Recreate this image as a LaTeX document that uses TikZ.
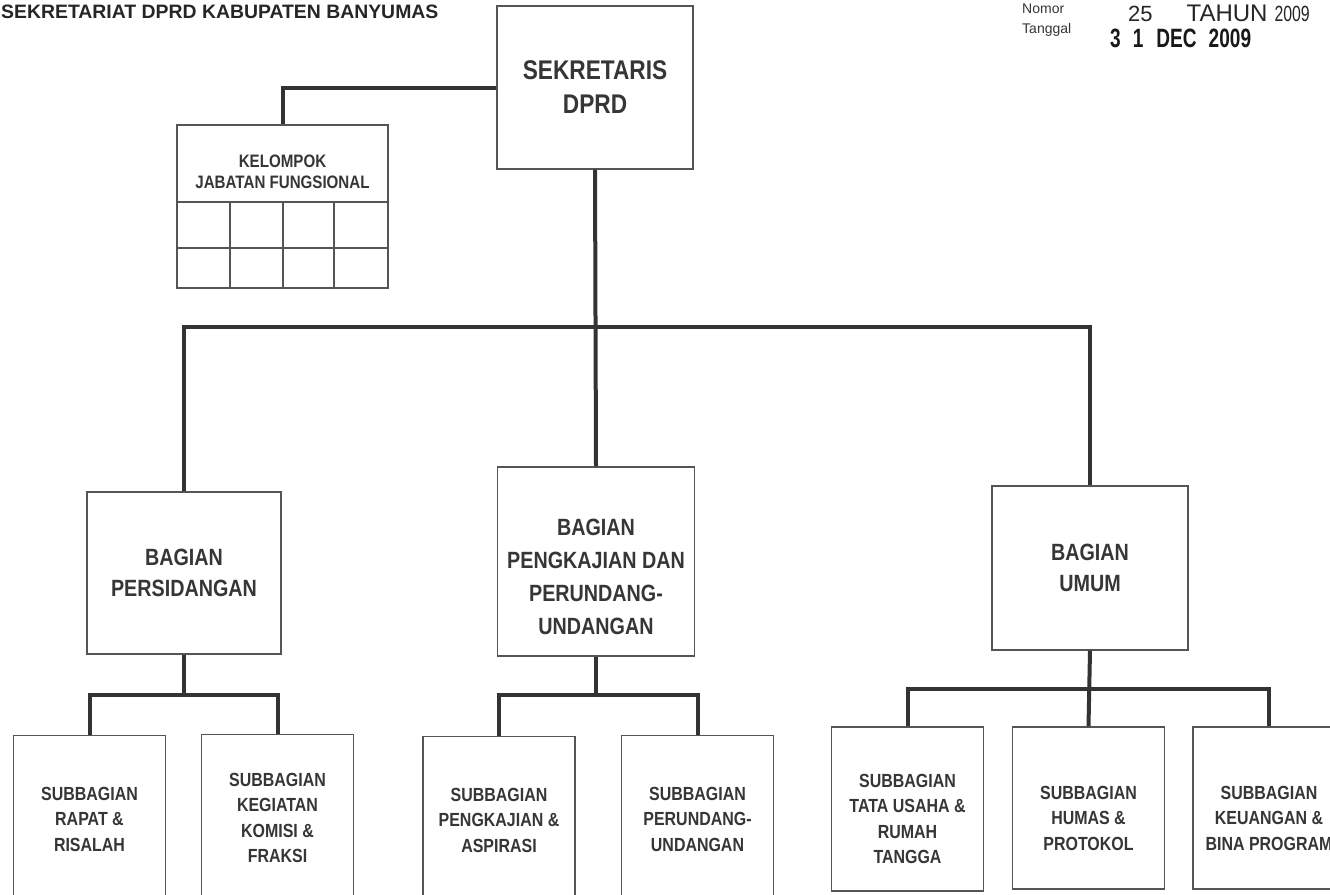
\documentclass[tikz,border=0pt]{standalone}
\usepackage{fontspec}
\setmainfont{Liberation Sans}
\newfontfamily\lblfont{Liberation Sans}[FakeStretch=0.84]
\newfontfamily\stampfont{Liberation Sans}[FakeStretch=0.72]
\usetikzlibrary{calc}
\definecolor{linegray}{HTML}{333333}
\definecolor{boxgray}{HTML}{555555}
\definecolor{textgray}{HTML}{363636}
\begin{document}
\begin{tikzpicture}[x=1pt,y=-1pt,
  box/.style={draw=boxgray,line width=1.4pt,fill=white,inner sep=0pt,align=center,text=textgray},
  lblbig/.style={font={\lblfont\bfseries\fontsize{27}{34}\selectfont}},
  lblmid/.style={font={\lblfont\bfseries\fontsize{23.5}{31}\selectfont}},
  lblpeng/.style={font={\lblfont\bfseries\fontsize{23.5}{33}\selectfont}},
  lblsub/.style={font={\lblfont\bfseries\fontsize{19}{25.5}\selectfont}},
  lblsmall/.style={font={\lblfont\bfseries\fontsize{18}{21}\selectfont}},
  subbox/.style={box,lblsub,minimum width=152,minimum height=167},
  inlbl/.style={align=center,text=textgray,inner sep=0pt},
  conn/.style={draw=linegray,line width=4pt},
  gridln/.style={draw=boxgray,line width=1.4pt},
  plain/.style={inner sep=0pt,text=textgray}]
\useasboundingbox[fill=white] (0,0) rectangle (1330,894);

% header texts
\node[plain,anchor=base west,font={\bfseries\fontsize{19.4}{22}\selectfont},text=black!85] (title) at (1,18) {SEKRETARIAT DPRD KABUPATEN BANYUMAS};
\node[plain,anchor=base west,font={\fontsize{14}{16}\selectfont}] (nomor) at (1022,13) {Nomor};
\node[plain,anchor=base west,font={\fontsize{14}{16}\selectfont}] (tanggal) at (1022,33) {Tanggal};
\node[plain,anchor=base west,font={\fontsize{22}{24}\selectfont},text=black!85] (nomorval) at (1128,21) {25\hspace{34pt}{\fontsize{24}{26}\selectfont TAHUN}\hspace{7pt}{\stampfont 2009}};
\node[plain,anchor=base west,font={\stampfont\bfseries\fontsize{26.5}{28}\selectfont},text=black!90] (tanggalval) at (1110,47) {3\hspace{12pt}1\hspace{13pt}DEC\hspace{12pt}2009};

% top level
\node[box,lblbig,minimum width=196,minimum height=163] (sek) at (595,87.5) {SEKRETARIS\\DPRD};

% kelompok jabatan fungsional
\node[box,minimum width=211,minimum height=163] (kjf) at (282.5,206.5) {};
\node[plain,align=center,lblsmall] (kjft) at (282.5,172) {KELOMPOK\\JABATAN FUNGSIONAL};
\draw[gridln] (kjf.west |- 0,202) -- (kjf.east |- 0,202);
\draw[gridln] (kjf.west |- 0,248) -- (kjf.east |- 0,248);
\draw[gridln] (230,202) -- (230,288);
\draw[gridln] (283,202) -- (283,288);
\draw[gridln] (334,202) -- (334,288);

% bagian level
\node[box,lblmid,minimum width=194,minimum height=162] (pers) at (184,573) {BAGIAN\\PERSIDANGAN};
\node[box,minimum width=197,minimum height=189,
  label={[inlbl,lblpeng,yshift=-15pt]center:{BAGIAN\\PENGKAJIAN DAN\\PERUNDANG-\\UNDANGAN}}] (peng) at (596,561.5) {};
\node[box,lblmid,minimum width=196,minimum height=164] (umum) at (1090,568) {BAGIAN\\UMUM};

% subbagian level
\node[subbox] (rapat) at (89.5,819) {SUBBAGIAN\\RAPAT \&\\RISALAH};
\node[subbox] (kegiatan) at (277.5,818) {SUBBAGIAN\\KEGIATAN\\KOMISI \&\\FRAKSI};
\node[subbox] (aspirasi) at (499,820) {SUBBAGIAN\\PENGKAJIAN \&\\ASPIRASI};
\node[subbox] (perund) at (697.5,819) {SUBBAGIAN\\PERUNDANG-\\UNDANGAN};
\node[box,minimum width=152,minimum height=164,
  label={[inlbl,lblsub,yshift=-10pt]center:{SUBBAGIAN\\TATA USAHA \&\\RUMAH\\TANGGA}}] (tata) at (907.5,809) {};
\node[box,minimum width=152,minimum height=162,
  label={[inlbl,lblsub,yshift=-10pt]center:{SUBBAGIAN\\HUMAS \&\\PROTOKOL}}] (humas) at (1088.5,808) {};
\node[box,minimum width=152,minimum height=162,
  label={[inlbl,lblsub,yshift=-10pt]center:{SUBBAGIAN\\KEUANGAN \&\\BINA PROGRAM}}] (keu) at (1269,808) {};

% connectors
\coordinate (hub) at (sek.south |- 0,327);
\draw[conn] (sek.west) -| (kjf.north);
\draw[conn] (sek.south) -- (peng.north);
\draw[conn] (pers.north) -- (pers.north |- hub) -- (umum.north |- hub) -- (umum.north);

\coordinate (persj) at (pers.south |- 0,695);
\draw[conn] (pers.south) -- (persj);
\draw[conn] (rapat.north) -- (rapat.north |- persj) -- (kegiatan.north |- persj) -- (kegiatan.north);

\coordinate (pengj) at (peng.south |- 0,695);
\draw[conn] (peng.south) -- (pengj);
\draw[conn] (aspirasi.north) -- (aspirasi.north |- pengj) -- (perund.north |- pengj) -- (perund.north);

\coordinate (umumj) at (umum.south |- 0,689);
\draw[conn] (umum.south) -- (humas.north);
\draw[conn] (tata.north) -- (tata.north |- umumj) -- (keu.north |- umumj) -- (keu.north);
\end{tikzpicture}
\end{document}
